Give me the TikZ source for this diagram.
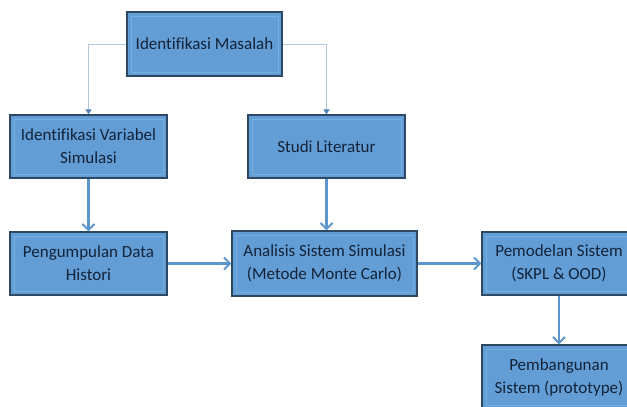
\documentclass[tikz,border=0pt]{standalone}
\usepackage{fontspec}
\setmainfont[Ligatures=NoCommon]{Carlito}
\usetikzlibrary{arrows.meta}
\definecolor{boxblue}{RGB}{98,157,214}
\definecolor{boxdark}{RGB}{44,72,98}
\definecolor{boxinner}{RGB}{120,175,225}
\definecolor{boxtop}{RGB}{232,240,190}
\definecolor{txt}{RGB}{20,35,55}
\definecolor{arrowblue}{RGB}{92,150,205}
\definecolor{thinline}{RGB}{180,200,222}
\definecolor{thintip}{RGB}{80,130,180}
\tikzset{
  procbox/.style={rectangle, fill=boxblue, draw=boxdark, line width=1.3pt,
    minimum height=64pt, inner sep=0pt, align=center, text=txt,
    font=\fontsize{17}{23}\selectfont,
    path picture={
      \draw[boxinner, line width=0.8pt]
        ([xshift=4pt,yshift=-4pt]path picture bounding box.north west) rectangle
        ([xshift=-4pt,yshift=4pt]path picture bounding box.south east);
      \draw[boxtop, line width=2.4pt]
        (path picture bounding box.north west) -- (path picture bounding box.north east);
    }},
  thickarrow/.style={arrowblue, line width=2.2pt,
    -{Straight Barb[length=6pt,width=12pt,line width=2pt]}},
  thinarrow/.style={thinline, line width=0.8pt,
    -{Triangle[length=5pt,width=6pt,color=thintip]}}
}
\begin{document}
\begin{tikzpicture}[x=1pt,y=-1pt]
\fill[white] (0,0) rectangle (627,407);
\clip (0,0) rectangle (627,407);
\useasboundingbox (0,0) rectangle (627,407);
\node[procbox, minimum width=155pt] (im) at (204.5,44) {Identifikasi Masalah};
\node[procbox, minimum width=157pt, minimum height=63pt] (iv) at (88.5,146.5) {Identifikasi Variabel\\Simulasi};
\node[procbox, minimum width=157pt, minimum height=63pt] (sl) at (326.5,146.5) {Studi Literatur};
\node[procbox, minimum width=157pt, minimum height=63pt] (pd) at (88.5,263.5) {Pengumpulan Data\\Histori};
\node[procbox, minimum width=185pt, minimum height=65pt] (as) at (324.5,263.5) {Analisis Sistem Simulasi\\(Metode Monte Carlo)};
\node[procbox, minimum width=154pt, minimum height=63pt] (ps) at (559,263.5) {Pemodelan Sistem\\(SKPL \& OOD)};
\node[procbox, minimum width=154pt, minimum height=64pt] (pb) at (559,377) {Pembangunan\\Sistem (prototype)};
\coordinate (c1) at (88.5,44);
\coordinate (c2) at (326.5,44);
\draw[thinarrow] (im.west) -- (c1) -- (iv.north);
\draw[thinarrow] (im.east) -- (c2) -- (sl.north);
\draw[thickarrow] (iv.south) -- (pd.north);
\draw[thickarrow] (sl.south) -- (sl.south |- as.north);
\draw[thickarrow] (pd.east) -- (as.west);
\draw[thickarrow] (as.east) -- (ps.west);
\draw[thickarrow] (ps.south) -- (pb.north);
\end{tikzpicture}
\end{document}
